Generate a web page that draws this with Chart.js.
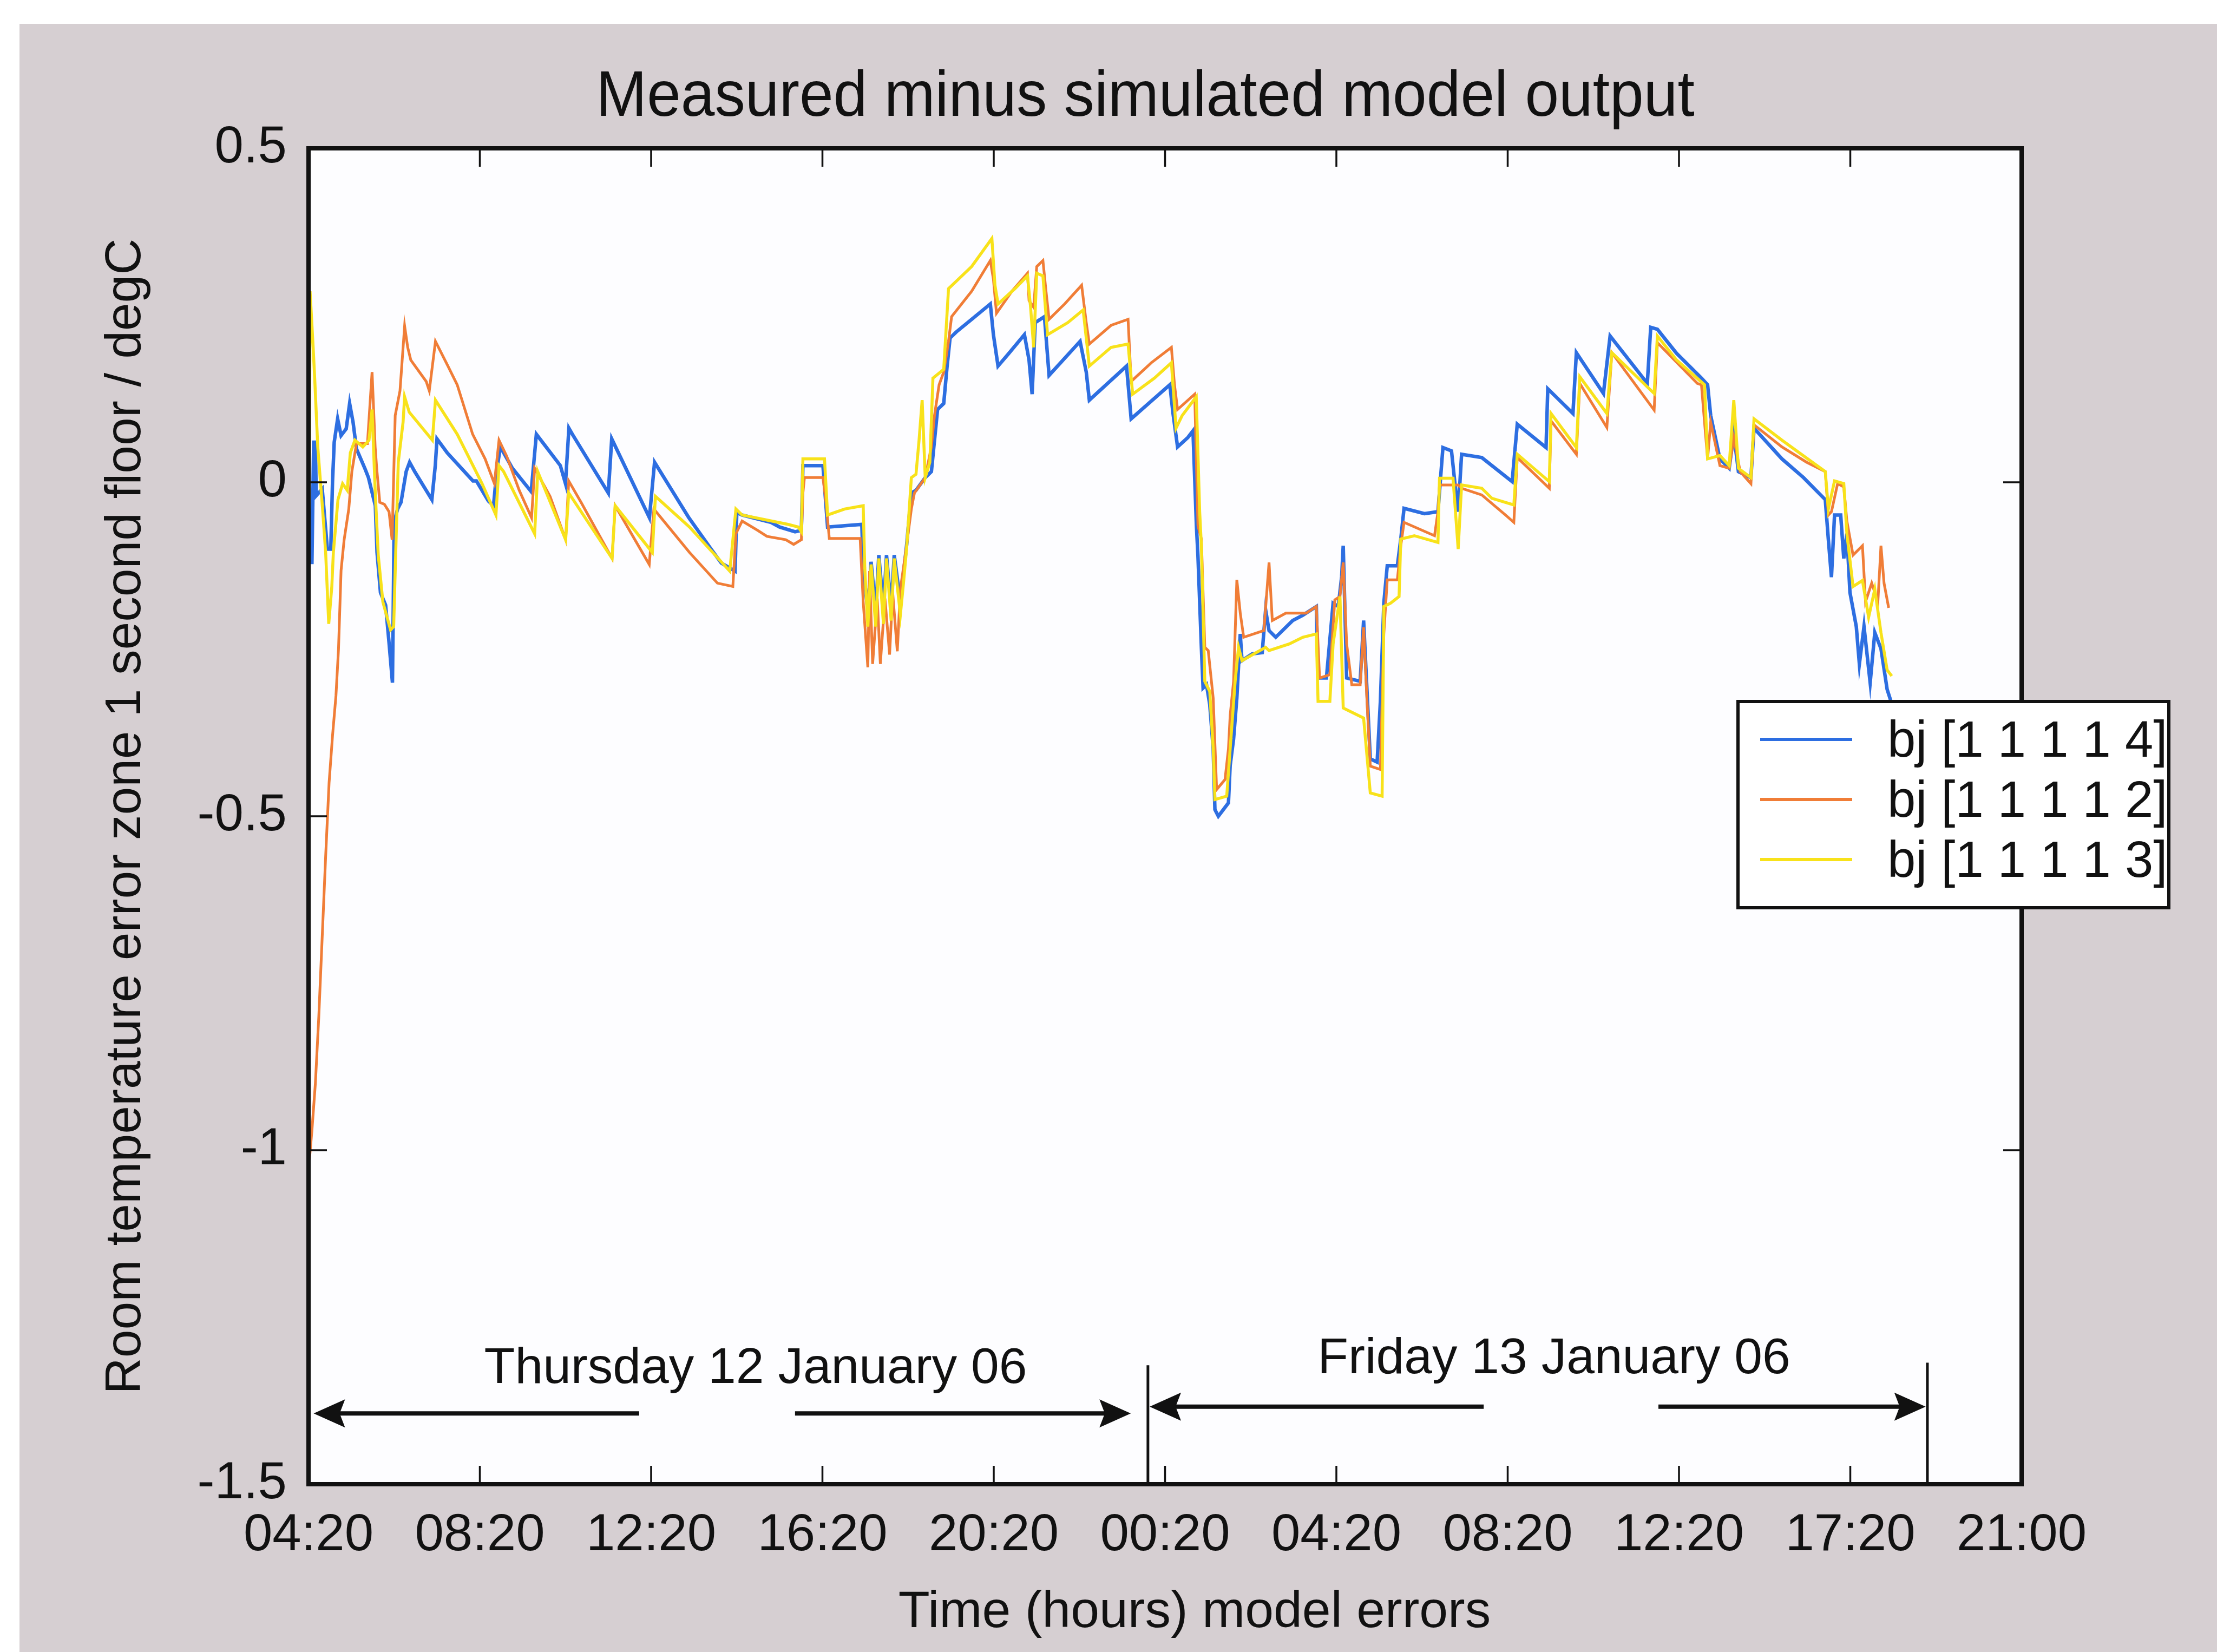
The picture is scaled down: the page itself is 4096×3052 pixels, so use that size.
<!DOCTYPE html>
<html>
<head>
<meta charset="utf-8">
<title>Measured minus simulated model output</title>
<script src="https://cdn.jsdelivr.net/npm/chart.js@4.4.1/dist/chart.umd.min.js"></script>
<style>
  body { margin: 0; background: #ffffff; }
  #wrap { position: relative; width: 4096px; height: 3052px; overflow: hidden; }
  #paper { position: absolute; left: 36px; top: 44px; right: 0; bottom: 0; background: #d6cfd2; }
  #chart { position: absolute; left: 0; top: 0; }
  #legend {
    position: absolute; left: 3208px; top: 1293px; width: 790px; height: 375px;
    background: #ffffff; border: 6px solid #111;
    font-family: "Liberation Sans", Arial, sans-serif; font-size: 94px; color: #111;
  }
  .row { position: absolute; left: 0; height: 100px; line-height: 100px; white-space: pre; }
  .swatch { position: absolute; left: 38px; top: 47px; width: 170px; height: 6px; }
  .label { position: absolute; left: 273px; top: 0; }
</style>
</head>
<body>
<div id="wrap">
  <div id="paper"></div>
  <canvas id="chart" width="4096" height="3052"></canvas>
  <div id="legend"></div>
</div>
<script>
const FONT = '"Liberation Sans", Arial, sans-serif';

const chartTitle = 'Measured minus simulated model output';
const xAxisTitle = 'Time (hours) model errors';
const yAxisTitle = 'Room temperature error zone 1 second floor / degC';

const xTickLabels = ['04:20', '08:20', '12:20', '16:20', '20:20', '00:20', '04:20', '08:20', '12:20', '17:20', '21:00'];
const yTicks = [-1.5, -1, -0.5, 0, 0.5];

const seriesNames = ['bj [1 1 1 1 4]', 'bj [1 1 1 1 2]', 'bj [1 1 1 1 3]'];
const seriesColors = ['#2d6ee1', '#f07d37', '#f8e21a'];

// x is in tick-slot units (0 = first 04:20, 10 = 21:00)
const blue = [[0.00,0.00],[0.01,-0.12],[0.02,-0.12],[0.03,0.06],[0.04,0.06],[0.045,-0.02],[0.08,-0.01],[0.09,-0.04],[0.11,-0.10],[0.13,-0.10],[0.14,0.00],[0.15,0.06],[0.17,0.095],[0.19,0.07],[0.22,0.08],[0.24,0.118],[0.26,0.09],[0.28,0.05],[0.33,0.02],[0.35,0.007],[0.39,-0.035],[0.40,-0.105],[0.42,-0.165],[0.45,-0.184],[0.47,-0.24],[0.49,-0.30],[0.50,-0.06],[0.52,-0.04],[0.54,-0.03],[0.57,0.016],[0.59,0.03],[0.62,0.016],[0.72,-0.026],[0.74,0.025],[0.75,0.065],[0.81,0.044],[0.96,0.002],[0.98,0.002],[1.05,-0.028],[1.08,-0.035],[1.10,0.02],[1.12,0.053],[1.19,0.021],[1.30,-0.014],[1.33,0.072],[1.47,0.025],[1.50,-0.002],[1.52,0.081],[1.54,0.072],[1.75,-0.016],[1.77,0.065],[1.99,-0.053],[2.02,0.03],[2.22,-0.053],[2.35,-0.10],[2.41,-0.121],[2.49,-0.133],[2.50,-0.045],[2.53,-0.049],[2.70,-0.06],[2.75,-0.067],[2.84,-0.074],[2.877,-0.072],[2.886,0.025],[3.003,0.025],[3.03,-0.067],[3.23,-0.063],[3.238,-0.128],[3.265,-0.193],[3.284,-0.119],[3.311,-0.193],[3.329,-0.109],[3.356,-0.188],[3.374,-0.109],[3.401,-0.188],[3.419,-0.109],[3.455,-0.179],[3.491,-0.095],[3.519,-0.016],[3.546,-0.012],[3.60,0.007],[3.636,0.016],[3.672,0.109],[3.708,0.118],[3.727,0.172],[3.745,0.216],[3.781,0.225],[3.871,0.244],[3.98,0.267],[3.998,0.221],[4.025,0.174],[4.088,0.193],[4.179,0.221],[4.206,0.183],[4.224,0.132],[4.242,0.239],[4.296,0.248],[4.323,0.16],[4.504,0.211],[4.54,0.165],[4.558,0.123],[4.775,0.174],[4.802,0.095],[5.028,0.146],[5.046,0.104],[5.073,0.053],[5.133,0.067],[5.163,0.077],[5.183,-0.065],[5.192,-0.11],[5.212,-0.247],[5.222,-0.308],[5.242,-0.303],[5.261,-0.333],[5.281,-0.399],[5.291,-0.49],[5.311,-0.50],[5.37,-0.48],[5.38,-0.424],[5.40,-0.384],[5.419,-0.323],[5.439,-0.227],[5.449,-0.267],[5.508,-0.257],[5.567,-0.255],[5.587,-0.191],[5.607,-0.222],[5.646,-0.232],[5.745,-0.207],[5.804,-0.199],[5.883,-0.186],[5.893,-0.293],[5.942,-0.293],[5.981,-0.181],[6.011,-0.186],[6.031,-0.141],[6.04,-0.095],[6.06,-0.293],[6.139,-0.298],[6.159,-0.207],[6.178,-0.308],[6.198,-0.414],[6.238,-0.419],[6.257,-0.328],[6.277,-0.181],[6.297,-0.125],[6.356,-0.125],[6.376,-0.085],[6.395,-0.039],[6.514,-0.047],[6.593,-0.044],[6.622,0.052],[6.672,0.047],[6.691,0.001],[6.711,-0.044],[6.731,0.042],[6.849,0.037],[7.026,0.001],[7.056,0.087],[7.224,0.052],[7.234,0.14],[7.381,0.103],[7.401,0.194],[7.559,0.133],[7.598,0.219],[7.815,0.148],[7.835,0.232],[7.874,0.229],[7.986,0.193],[8.131,0.156],[8.167,0.146],[8.185,0.10],[8.239,0.035],[8.293,0.021],[8.32,0.072],[8.347,0.016],[8.42,0.007],[8.438,0.081],[8.601,0.035],[8.727,0.007],[8.854,-0.026],[8.872,-0.086],[8.89,-0.142],[8.908,-0.049],[8.944,-0.049],[8.962,-0.114],[8.98,-0.077],[8.998,-0.165],[9.035,-0.216],[9.053,-0.272],[9.08,-0.216],[9.116,-0.30],[9.143,-0.225],[9.179,-0.249],[9.215,-0.31],[9.24,-0.33]];

const orange = [[0.0,-0.98],[0.01,-1.0],[0.02,-0.97],[0.04,-0.9],[0.06,-0.8],[0.08,-0.68],[0.10,-0.56],[0.12,-0.45],[0.14,-0.38],[0.16,-0.32],[0.175,-0.25],[0.19,-0.132],[0.208,-0.086],[0.235,-0.04],[0.253,0.016],[0.28,0.058],[0.344,0.058],[0.371,0.165],[0.389,0.053],[0.398,0.021],[0.416,-0.03],[0.443,-0.033],[0.47,-0.044],[0.488,-0.086],[0.497,0.007],[0.506,0.10],[0.534,0.137],[0.561,0.234],[0.579,0.202],[0.597,0.183],[0.687,0.151],[0.705,0.137],[0.741,0.211],[0.814,0.174],[0.868,0.146],[0.958,0.072],[1.031,0.035],[1.085,-0.002],[1.112,0.063],[1.157,0.039],[1.23,-0.012],[1.302,-0.053],[1.32,0.021],[1.41,-0.021],[1.501,-0.086],[1.519,0.002],[1.591,-0.03],[1.772,-0.114],[1.79,-0.035],[1.989,-0.123],[2.016,-0.04],[2.224,-0.105],[2.387,-0.151],[2.477,-0.156],[2.495,-0.077],[2.531,-0.058],[2.622,-0.072],[2.676,-0.081],[2.786,-0.086],[2.832,-0.093],[2.877,-0.086],[2.886,-0.016],[2.895,0.007],[3.003,0.007],[3.021,-0.03],[3.04,-0.084],[3.22,-0.084],[3.238,-0.179],[3.265,-0.277],[3.275,-0.133],[3.293,-0.272],[3.32,-0.174],[3.338,-0.272],[3.365,-0.174],[3.392,-0.258],[3.41,-0.165],[3.437,-0.253],[3.455,-0.16],[3.491,-0.095],[3.519,-0.04],[3.537,-0.016],[3.60,0.007],[3.636,0.053],[3.654,0.10],[3.681,0.146],[3.708,0.165],[3.736,0.211],[3.754,0.248],[3.871,0.286],[3.98,0.332],[3.998,0.304],[4.016,0.253],[4.106,0.286],[4.197,0.313],[4.206,0.272],[4.233,0.262],[4.251,0.323],[4.287,0.332],[4.305,0.286],[4.323,0.244],[4.414,0.267],[4.513,0.295],[4.54,0.239],[4.558,0.207],[4.685,0.235],[4.784,0.244],[4.802,0.151],[4.92,0.179],[5.037,0.202],[5.055,0.146],[5.073,0.109],[5.173,0.132],[5.192,-0.065],[5.212,-0.085],[5.232,-0.247],[5.252,-0.252],[5.281,-0.323],[5.301,-0.46],[5.35,-0.445],[5.37,-0.399],[5.38,-0.349],[5.40,-0.298],[5.419,-0.146],[5.439,-0.196],[5.459,-0.232],[5.577,-0.222],[5.607,-0.12],[5.626,-0.207],[5.705,-0.196],[5.823,-0.196],[5.883,-0.186],[5.902,-0.293],[5.962,-0.288],[5.991,-0.176],[6.021,-0.171],[6.04,-0.12],[6.06,-0.242],[6.09,-0.303],[6.139,-0.303],[6.159,-0.217],[6.178,-0.323],[6.198,-0.425],[6.257,-0.43],[6.277,-0.227],[6.297,-0.146],[6.356,-0.146],[6.376,-0.095],[6.395,-0.06],[6.573,-0.08],[6.593,-0.044],[6.602,-0.004],[6.711,-0.004],[6.731,-0.009],[6.849,-0.019],[6.987,-0.049],[7.036,-0.06],[7.056,0.037],[7.243,-0.009],[7.253,0.092],[7.401,0.042],[7.421,0.148],[7.579,0.082],[7.608,0.194],[7.855,0.108],[7.874,0.209],[8.107,0.148],[8.131,0.146],[8.167,0.035],[8.185,0.09],[8.239,0.025],[8.293,0.021],[8.32,0.067],[8.357,0.016],[8.42,-0.002],[8.438,0.086],[8.601,0.053],[8.745,0.03],[8.854,0.016],[8.872,-0.049],[8.89,-0.044],[8.926,-0.002],[8.962,-0.007],[8.98,-0.058],[9.016,-0.109],[9.071,-0.095],[9.089,-0.179],[9.125,-0.151],[9.161,-0.179],[9.179,-0.095],[9.197,-0.151],[9.224,-0.188]];

const yellow = [[0.0,-0.62],[0.005,0.0],[0.009,0.286],[0.027,0.202],[0.036,0.156],[0.054,0.053],[0.082,-0.04],[0.10,-0.105],[0.118,-0.212],[0.136,-0.156],[0.145,-0.105],[0.172,-0.026],[0.199,-0.002],[0.226,-0.012],[0.244,0.044],[0.271,0.063],[0.317,0.053],[0.353,0.063],[0.371,0.109],[0.389,-0.012],[0.407,-0.109],[0.434,-0.179],[0.479,-0.221],[0.497,-0.216],[0.506,-0.133],[0.524,0.03],[0.552,0.09],[0.561,0.128],[0.588,0.105],[0.723,0.063],[0.741,0.123],[0.868,0.072],[1.013,-0.002],[1.094,-0.049],[1.112,0.025],[1.139,0.016],[1.32,-0.077],[1.338,0.016],[1.501,-0.086],[1.519,-0.016],[1.772,-0.114],[1.79,-0.035],[2.007,-0.105],[2.025,-0.021],[2.224,-0.067],[2.459,-0.133],[2.495,-0.04],[2.531,-0.049],[2.799,-0.063],[2.859,-0.067],[2.877,-0.074],[2.886,0.035],[3.012,0.035],[3.03,-0.049],[3.13,-0.04],[3.238,-0.035],[3.247,-0.128],[3.265,-0.216],[3.284,-0.123],[3.311,-0.216],[3.329,-0.114],[3.356,-0.212],[3.374,-0.114],[3.401,-0.207],[3.419,-0.114],[3.455,-0.198],[3.473,-0.151],[3.491,-0.10],[3.519,0.007],[3.546,0.012],[3.564,0.063],[3.582,0.123],[3.60,0.007],[3.627,0.03],[3.645,0.156],[3.708,0.169],[3.736,0.29],[3.871,0.323],[3.989,0.365],[4.007,0.295],[4.025,0.267],[4.124,0.29],[4.197,0.309],[4.215,0.262],[4.233,0.202],[4.251,0.313],[4.287,0.309],[4.314,0.221],[4.432,0.239],[4.522,0.258],[4.558,0.174],[4.685,0.202],[4.784,0.207],[4.811,0.132],[4.938,0.156],[5.037,0.179],[5.064,0.081],[5.10,0.10],[5.182,0.128],[5.202,-0.044],[5.212,-0.095],[5.232,-0.298],[5.261,-0.313],[5.281,-0.399],[5.291,-0.475],[5.36,-0.47],[5.38,-0.399],[5.409,-0.298],[5.429,-0.247],[5.449,-0.267],[5.587,-0.247],[5.607,-0.252],[5.725,-0.242],[5.804,-0.232],[5.883,-0.227],[5.893,-0.328],[5.962,-0.328],[5.981,-0.242],[6.021,-0.171],[6.04,-0.338],[6.08,-0.343],[6.159,-0.353],[6.198,-0.465],[6.267,-0.47],[6.277,-0.186],[6.316,-0.181],[6.366,-0.171],[6.376,-0.085],[6.455,-0.08],[6.593,-0.09],[6.602,0.006],[6.681,0.006],[6.711,-0.10],[6.731,-0.004],[6.849,-0.009],[6.908,-0.024],[7.036,-0.034],[7.056,0.042],[7.243,0.001],[7.253,0.103],[7.401,0.052],[7.421,0.158],[7.579,0.103],[7.608,0.194],[7.855,0.133],[7.874,0.219],[7.986,0.183],[8.149,0.146],[8.167,0.035],[8.239,0.04],[8.293,0.025],[8.32,0.123],[8.347,0.021],[8.42,0.007],[8.438,0.095],[8.601,0.063],[8.854,0.016],[8.872,-0.04],[8.908,0.002],[8.962,-0.002],[8.98,-0.077],[9.016,-0.156],[9.071,-0.147],[9.107,-0.202],[9.143,-0.16],[9.179,-0.225],[9.215,-0.281],[9.242,-0.29]];

// day annotations (x in tick-slot units, y in degC)
const dayLabels = ['Thursday 12 January 06', 'Friday 13 January 06'];
const dayLabelX = [2.61, 7.27];
const dayLabelY = [-1.328, -1.313];
const dayStart = [0.03, 4.91];
const dayEnd = [4.80, 9.44];
const dayGapFrom = [1.93, 6.86];
const dayGapTo = [2.84, 7.88];
const dayArrowY = [-1.394, -1.384];
const dayDividers = [4.90, 9.45];
const dividerTop = [-1.322, -1.318];

function toPoints(arr) {
    return arr.map(p => ({ x: p[0], y: p[1] }));
}

function arrowHead(ctx, tipX, y, dir) {
    ctx.beginPath();
    ctx.moveTo(tipX, y);
    ctx.lineTo(tipX + dir * 58, y - 26);
    ctx.lineTo(tipX + dir * 48, y);
    ctx.lineTo(tipX + dir * 58, y + 26);
    ctx.closePath();
    ctx.fill();
}

const framePlugin = {
    id: 'frame',
    beforeDatasetsDraw(chart) {
        const { ctx, chartArea: a } = chart;
        ctx.save();
        ctx.fillStyle = '#fdfdff';
        ctx.fillRect(a.left, a.top, a.right - a.left, a.bottom - a.top);
        ctx.restore();
    },
    afterDatasetsDraw(chart) {
        const { ctx, chartArea: a, scales } = chart;
        const x = scales.x, y = scales.y;
        ctx.save();
        ctx.strokeStyle = '#111';
        ctx.fillStyle = '#111';

        // inward tick marks
        ctx.lineWidth = 3.5;
        ctx.beginPath();
        for (let i = 1; i < xTickLabels.length - 1; i++) {
            const px = x.getPixelForValue(i);
            ctx.moveTo(px, a.bottom); ctx.lineTo(px, a.bottom - 34);
            ctx.moveTo(px, a.top); ctx.lineTo(px, a.top + 34);
        }
        yTicks.slice(1, -1).forEach(v => {
            const py = y.getPixelForValue(v);
            ctx.moveTo(a.left, py); ctx.lineTo(a.left + 34, py);
            ctx.moveTo(a.right, py); ctx.lineTo(a.right - 34, py);
        });
        ctx.stroke();

        // day arrows, dividers and labels
        for (let i = 0; i < dayLabels.length; i++) {
            const x0 = x.getPixelForValue(dayStart[i]);
            const x1 = x.getPixelForValue(dayEnd[i]);
            const g0 = x.getPixelForValue(dayGapFrom[i]);
            const g1 = x.getPixelForValue(dayGapTo[i]);
            const py = y.getPixelForValue(dayArrowY[i]);
            ctx.lineWidth = 8;
            ctx.beginPath();
            ctx.moveTo(x0 + 40, py); ctx.lineTo(g0, py);
            ctx.moveTo(g1, py); ctx.lineTo(x1 - 40, py);
            ctx.stroke();
            arrowHead(ctx, x0, py, 1);
            arrowHead(ctx, x1, py, -1);

            const dx = x.getPixelForValue(dayDividers[i]);
            ctx.lineWidth = 5;
            ctx.beginPath();
            ctx.moveTo(dx, y.getPixelForValue(dividerTop[i]));
            ctx.lineTo(dx, a.bottom);
            ctx.stroke();

            ctx.font = '93px ' + FONT;
            ctx.textAlign = 'center';
            ctx.textBaseline = 'middle';
            ctx.fillText(dayLabels[i], x.getPixelForValue(dayLabelX[i]), y.getPixelForValue(dayLabelY[i]));
        }

        // axes box
        ctx.lineWidth = 8;
        ctx.strokeRect(a.left, a.top, a.right - a.left, a.bottom - a.top);

        // chart title (slightly condensed, as in the scan)
        ctx.save();
        ctx.font = '118px ' + FONT;
        ctx.textAlign = 'center';
        ctx.textBaseline = 'alphabetic';
        ctx.translate(2116, 214);
        ctx.scale(0.955, 1);
        ctx.fillText(chartTitle, 0, 0);
        ctx.restore();

        // x axis title
        ctx.font = '95px ' + FONT;
        ctx.textAlign = 'center';
        ctx.textBaseline = 'middle';
        ctx.fillText(xAxisTitle, 2207, 2980);
        ctx.restore();
    }
};

const datasets = [blue, orange, yellow].map((d, i) => ({
    label: seriesNames[i],
    data: toPoints(d),
    borderColor: seriesColors[i],
    backgroundColor: seriesColors[i],
    borderWidth: [6.5, 5, 5.5][i],
    pointRadius: 0,
    tension: 0,
    fill: false,
    order: 3 - i
}));

new Chart(document.getElementById('chart'), {
    type: 'line',
    data: { datasets },
    plugins: [framePlugin],
    options: {
        responsive: false,
        devicePixelRatio: 1,
        animation: false,
        layout: { padding: { left: 0, right: 361, top: 274, bottom: 0 } },
        plugins: {
            legend: { display: false },
            tooltip: { enabled: false },
            title: { display: false }
        },
        scales: {
            x: {
                type: 'linear',
                min: 0,
                max: 10,
                afterFit: s => { s.height = 310; },
                grid: { display: false, drawTicks: false },
                border: { display: false },
                ticks: {
                    stepSize: 1,
                    autoSkip: false,
                    maxRotation: 0,
                    padding: 38,
                    color: '#111',
                    font: { family: FONT, size: 96 },
                    callback: v => Number.isInteger(v) ? xTickLabels[v] : ''
                },
                title: { display: false }
            },
            y: {
                type: 'linear',
                min: -1.5,
                max: 0.5,
                afterFit: s => { s.width = 570; },
                grid: { display: false, drawTicks: false },
                border: { display: false },
                ticks: {
                    stepSize: 0.5,
                    padding: 40,
                    color: '#111',
                    font: { family: FONT, size: 96 },
                    callback: v => yTicks.includes(v) ? String(v) : ''
                },
                title: {
                    display: true,
                    text: yAxisTitle,
                    color: '#111',
                    font: { family: FONT, size: 93 },
                    padding: { top: 178, bottom: 0 }
                }
            }
        }
    }
});

// legend box
const legend = document.getElementById('legend');
seriesNames.forEach((name, i) => {
    const row = document.createElement('div');
    row.className = 'row';
    row.style.top = (17 + i * 111) + 'px';
    row.style.width = '100%';
    const sw = document.createElement('span');
    sw.className = 'swatch';
    sw.style.background = seriesColors[i];
    const lb = document.createElement('span');
    lb.className = 'label';
    lb.textContent = name;
    row.appendChild(sw);
    row.appendChild(lb);
    legend.appendChild(row);
});
</script>
</body>
</html>
